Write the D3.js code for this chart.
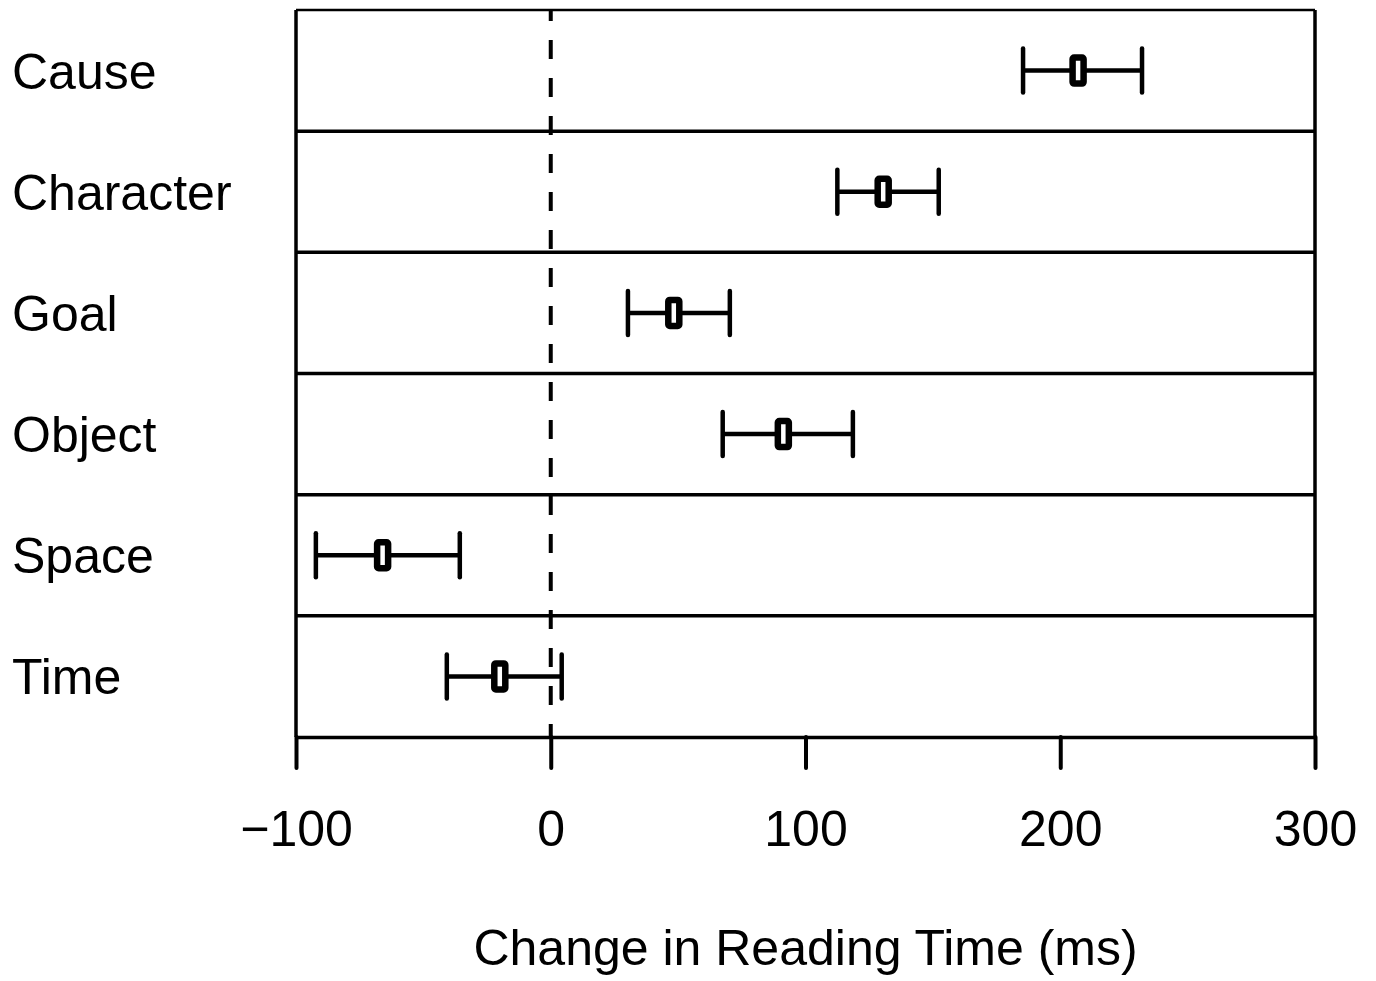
<!DOCTYPE html>
<html>
<head>
<meta charset="utf-8">
<script src="https://cdn.jsdelivr.net/npm/d3@7"></script>
<style>
    body { margin: 0; background: #fff; }
    svg text { font-family: "Liberation Sans", Arial, Helvetica, sans-serif; fill: #000; }
</style>
</head>
<body>
<svg id="chart" width="1376" height="981"></svg>
<script>
const categories = ['Cause', 'Character', 'Goal', 'Object', 'Space', 'Time'];
const means = [207, 130.5, 48.3, 91.3, -66, -20];
const lower = [185.4, 112.5, 30.3, 67.5, -92.2, -40.8];
const upper = [232.1, 152.3, 70.3, 118.6, -35.7, 4.3];
const tickValues = [-100, 0, 100, 200, 300];
const axisTitle = 'Change in Reading Time (ms)';

const rows = categories.map((c, i) => ({
    name: c,
    mean: means[i],
    lo: lower[i],
    hi: upper[i]
}));

const svg = d3.select('#chart');

const x = d3.scaleLinear()
    .domain([-100, 300])
    .range([296, 1315]);

const y = d3.scaleBand()
    .domain(categories)
    .range([10, 737]);

const plotLeft = x.range()[0], plotRight = x.range()[1];
const plotTop = y.range()[0], plotBottom = y.range()[1];

// panel separators
svg.append('g')
    .selectAll('line')
    .data(categories.slice(1))
    .enter()
    .append('line')
    .attr('x1', plotLeft)
    .attr('x2', plotRight)
    .attr('y1', d => y(d))
    .attr('y2', d => y(d))
    .attr('stroke', '#000')
    .attr('stroke-width', 3.5);

// frame
svg.append('line')
    .attr('x1', plotLeft).attr('x2', plotRight)
    .attr('y1', plotTop).attr('y2', plotTop)
    .attr('stroke', '#000').attr('stroke-width', 2.5);
svg.append('line')
    .attr('x1', plotLeft).attr('x2', plotLeft)
    .attr('y1', plotTop).attr('y2', plotBottom)
    .attr('stroke', '#000').attr('stroke-width', 3.5);
svg.append('line')
    .attr('x1', plotRight).attr('x2', plotRight)
    .attr('y1', plotTop).attr('y2', plotBottom)
    .attr('stroke', '#000').attr('stroke-width', 3.5);

// zero reference line
svg.append('line')
    .attr('x1', x(0)).attr('x2', x(0))
    .attr('y1', plotTop).attr('y2', plotBottom)
    .attr('stroke', '#000')
    .attr('stroke-width', 4)
    .attr('stroke-dasharray', '19 19')
    .attr('stroke-dashoffset', 8);

// bottom axis
const axis = d3.axisBottom(x)
    .tickValues(tickValues)
    .tickSize(31)
    .tickSizeOuter(0)
    .tickPadding(42);

const gAxis = svg.append('g')
    .attr('transform', `translate(0,${plotBottom})`)
    .call(axis);
gAxis.select('.domain')
    .attr('stroke', '#000')
    .attr('stroke-width', 3.5);
gAxis.selectAll('.tick line')
    .attr('stroke', '#000')
    .attr('stroke-width', 4)
    .attr('stroke-linecap', 'round');
gAxis.selectAll('.tick text')
    .attr('font-size', 50)
    .attr('font-family', '"Liberation Sans", Arial, sans-serif')
    .attr('fill', '#000');

// error bars
const bars = svg.append('g')
    .selectAll('g')
    .data(rows)
    .enter()
    .append('g')
    .attr('transform', d => `translate(0,${y(d.name) + y.bandwidth() / 2})`);

bars.append('line')
    .attr('x1', d => x(d.lo))
    .attr('x2', d => x(d.hi))
    .attr('y1', 0).attr('y2', 0)
    .attr('stroke', '#000')
    .attr('stroke-width', 4.5);

bars.selectAll('.cap')
    .data(d => [d.lo, d.hi])
    .enter()
    .append('line')
    .attr('class', 'cap')
    .attr('x1', v => x(v)).attr('x2', v => x(v))
    .attr('y1', -22).attr('y2', 22)
    .attr('stroke', '#000')
    .attr('stroke-width', 4.5)
    .attr('stroke-linecap', 'round');

bars.append('rect')
    .attr('x', d => x(d.mean) - 5.5)
    .attr('y', -13)
    .attr('width', 11)
    .attr('height', 26)
    .attr('rx', 1.5)
    .attr('fill', '#fff')
    .attr('stroke', '#000')
    .attr('stroke-width', 6.5)
    .attr('stroke-linejoin', 'round');

// category labels
svg.append('g')
    .selectAll('text')
    .data(categories)
    .enter()
    .append('text')
    .attr('x', 12)
    .attr('y', d => y(d) + y.bandwidth() / 2 + 18)
    .attr('font-size', 50)
    .text(d => d);

// axis title
svg.append('text')
    .attr('x', (plotLeft + plotRight) / 2)
    .attr('y', 965)
    .attr('text-anchor', 'middle')
    .attr('font-size', 50)
    .text(axisTitle);
</script>
</body>
</html>
